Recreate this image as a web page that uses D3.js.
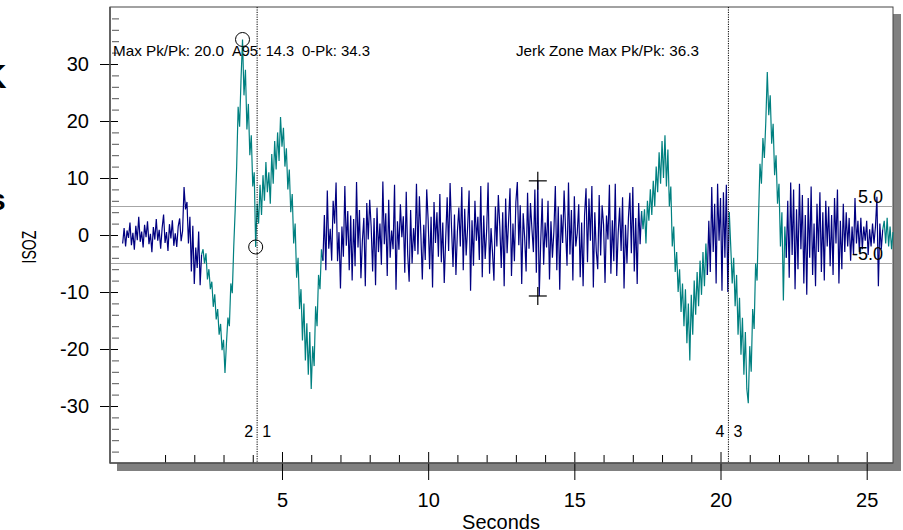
<!DOCTYPE html>
<html>
<head>
<meta charset="utf-8">
<script src="https://cdn.jsdelivr.net/npm/d3@7"></script>
<style>
  body { margin: 0; background: #fff; }
  svg { display: block; font-family: "Liberation Sans", Arial, sans-serif; }
</style>
</head>
<body>
<svg id="chart" width="903" height="530"></svg>
<script>
// ---- Recorded ISO-Z jerk trace, sampled every 0.05 s ----
const SAMPLE_STEP = 0.05;

// Quiet lead-in (navy)
const leadStart = -0.45;
const leadValues = [
  -1.5, 1.2, -2.0, 0.8, -0.5, 2.2, -1.8, 0.4, -2.6, 1.6,
  -0.9, 3.2, -1.2, 0.6, -2.2, 1.8, -0.4, 2.4, -1.6, 0.2,
  -3.0, 1.4, -0.8, 2.8, -1.0, 0.9, -2.4, 1.2, 3.6, -1.4,
  0.5, -2.8, 1.9, -0.6, 2.6, -1.9, 0.3, -2.1, 1.5, 2.9,
  -1.1, 0.7, 8.4, 4.5, 5.8, -1.5, 3.2, -6.4, 1.6, -8.6,
  -2.2, -5.8, 0.6, -8.8, -3.4
];

// First jerk zone (teal)
const jerkOneStart = 2.30;
const jerkOneValues = [
  -2.5, -5.0, -3.2, -7.8, -6.0, -9.5, -8.2, -12.6, -10.4, -14.8,
  -13.0, -17.5, -15.6, -20.2, -18.4, -24.2, -19.0, -14.5, -16.0, -8.5,
  -10.2, -2.0, 4.5, 12.0, 22.5, 19.0, 27.5, 34.3, 24.5, 29.0,
  18.5, 23.0, 14.0, 17.5, 8.5, 11.0, -2.1, 5.5, 2.0, 8.8,
  3.5, 10.5, 6.0, 12.8, 7.5, 11.0, 5.5, 14.2, 9.0, 16.5,
  11.5, 18.0, 13.0, 20.7, 15.5, 18.8, 12.0, 15.2, 8.0, 11.5,
  4.0, 7.2, -1.5, 2.0, -7.5, -4.0, -13.0, -9.5, -18.5, -12.0,
  -22.0, -15.5, -24.5, -17.0, -27.0, -19.5, -23.0, -12.5, -16.0, -7.0,
  -9.5, -2.5, -4.5
];

// Steady running (navy)
const steadyStart = 6.45;
const steadyValues = [
  3.5, -6.2, 7.8, -2.4, 1.1, -4.5, 6.0, 2.0, 9.2, -4.6,
  0.5, -9.4, 1.5, -3.8, 8.6, -1.9, 4.2, -6.2, 3.4, -8.0,
  2.8, -5.5, 9.3, -2.2, 4.4, -7.6, -1.0, 3.0, -9.0, 5.6,
  -0.8, 6.2, 1.5, -6.4, 3.0, -8.8, 4.8, -3.0, 2.0, -5.2,
  9.4, -1.6, 3.8, -7.2, 6.2, -4.0, 0.8, -2.5, 8.8, -9.6,
  2.4, -2.6, 5.4, -0.4, 3.3, -6.6, 7.6, -3.4, -8.2, 4.4,
  -5.0, 1.2, -2.8, 9.0, -3.4, 6.8, 0.2, -7.8, 1.8, -4.4,
  8.0, 2.6, -6.0, 3.2, -9.2, 5.8, -1.4, 4.0, -3.8, 7.2,
  -4.8, 2.2, -8.4, -0.6, 6.6, -2.8, 9.1, 1.2, -5.6, 3.6,
  -7.0, 0.6, 4.8, -2.0, 8.4, -6.2, 4.6, -3.6, 1.4, 7.8,
  -9.8, 2.6, -5.4, 6.0, -1.0, 3.2, -4.4, 8.6, -7.4, 3.4,
  -4.2, 0.8, 9.2, -6.8, 1.2, -3.0, -8.0, 5.0, -2.0, 7.0,
  1.6, -5.8, 4.0, -9.0, 6.4, -3.2, 2.4, 8.2, -7.2, 2.0,
  -4.6, 5.8, 9.3, -1.8, 5.2, -8.6, 3.8, -0.4, -6.4, 7.4,
  -2.4, 5.6, 1.0, -3.0, 8.0, -6.6, 9.5, -10.7, -1.2, 6.4,
  -5.2, 2.2, -2.2, 6.0, -7.8, 2.4, -4.0, 0.6, 8.6, -6.2,
  5.0, -9.6, 3.6, -1.4, 7.8, 1.0, -5.4, 9.2, -3.4, 4.4,
  -8.0, 6.8, -2.0, 0.4, 5.4, -7.4, 2.2, -9.0, 3.5, 8.2,
  -4.8, 6.4, -1.0, 8.6, -9.2, 4.0, -2.8, -6.0, 7.0, -3.6,
  5.2, 1.8, -8.4, 3.4, -0.8, 8.8, -6.8, 2.6, -4.6, 9.0,
  -7.2, 0.4, 4.8, -2.8, 6.6, -9.4, 1.8, -5.0, 3.0, 7.4,
  -3.2, 8.4, -6.4, 3.0, -8.6, 5.6, -1.6, 4.2
];

// Build-up before the second stop (teal)
const riseStart = 17.35;
const riseValues = [
  1.0, 4.5, -1.5, 6.0, 2.5, 8.0, 3.5, 9.5, 5.0, 12.0,
  7.5, 14.5, 9.0, 16.5, 10.0, 17.5, 8.5, 15.0, 5.0, 8.5,
  -2.0, 1.5, -6.5, -3.0, -10.0, -6.0, -13.5, -8.5, -16.0, -9.5,
  -19.0, -12.0, -22.0, -10.5, -17.5, -8.0, -14.0, -6.5, -12.5, -4.5,
  -10.5, -3.0, -9.0, -1.5, -7.0
];

// Short settled stretch (navy)
const gapStart = 19.60;
const gapValues = [
  2.5, -6.5, 8.4, -3.0, 5.5, -8.5, 9.0, -1.0, 6.5, -9.8,
  7.5, -4.0, 8.8, -10.0, 4.0
];

// Second jerk zone (teal)
const jerkTwoStart = 20.35;
const jerkTwoValues = [
  -2.0, -8.5, -4.0, -12.5, -7.0, -17.5, -11.0, -21.0, -14.5, -24.5,
  -17.0, -27.0, -29.5, -19.5, -24.0, -13.0, -16.5, -5.0, -8.0, 3.0,
  12.5, 9.0, 17.0, 13.5, 20.0, 28.6, 21.0, 24.5, 16.0, 19.5,
  10.5, 14.0, 5.5, 9.0, -2.0, 4.0, -11.5, 1.5, -4.0
];

// Decaying vibration after the stop (navy)
const decayStart = 22.30;
const decayValues = [
  6.0, -7.5, 9.2, -3.5, 8.0, -9.5, 4.5, -6.0, 9.0, -2.5,
  7.0, -8.5, 3.5, -10.5, 6.5, -4.0, 8.5, -7.0, 2.0, -9.0,
  5.5, -3.0, 7.5, -6.5, 4.0, -8.0, 6.0, -2.0, 5.0, -5.5,
  3.5, -7.0, 6.5, -1.5, 8.0, -8.5, 2.5, -6.0, 5.5, -3.0,
  4.0, -2.0, 3.0, -4.5, 1.5, -3.5, 6.5, -1.5, 2.5, -3.0,
  3.0, -2.5, 1.5, -1.0, 2.5, -3.5, 1.0, -2.0, 2.0, -1.5,
  1.5, 6.7, -9.0, 2.0, -2.5, 1.0
];

// Trailing samples (teal)
const tailStart = 25.60;
const tailValues = [2.5, -1.5, 3.0, -2.0, 1.5, -2.5, 0.5];

// Axis ticks
const xMajorTicks = [5, 10, 15, 20, 25];
const xMinorTicks = [1, 2, 3, 4, 6, 7, 8, 9, 11, 12, 13, 14, 16, 17, 18, 19, 21, 22, 23, 24];
const yMajorTicks = [-30, -20, -10, 0, 10, 20, 30];
const yMinorTicks = [-38, -36, -34, -32, -28, -26, -24, -22, -18, -16, -14, -12, -8, -6, -4, -2,
                     2, 4, 6, 8, 12, 14, 16, 18, 22, 24, 26, 28, 32, 34, 36, 38];

// Alarm limits and zone cursors
const limitLevels = [5.0, -5.0];
const cursorTimes = [4.15, 20.27];
const cursorLabels = [["2", "1"], ["4", "3"]];

// Summary readouts
const zoneStats = ["Max Pk/Pk: 20.0", "A95: 14.3", "0-Pk: 34.3"];
const jerkZoneStat = "Jerk Zone Max Pk/Pk: 36.3";

// ---- Drawing ----
const NAVY = "#000080";
const TEAL = "#008080";
const svg = d3.select("#chart");
const frame = { left: 110, top: 7, right: 893, bottom: 463 };

const x = d3.scaleLinear().domain([-0.883, 25.9]).range([frame.left, frame.right]);
const y = d3.scaleLinear().domain([-40, 40]).range([frame.bottom, frame.top]);

// drop shadow and plot face
svg.append("rect")
  .attr("x", frame.left + 7).attr("y", frame.top + 7)
  .attr("width", frame.right - frame.left + 1).attr("height", frame.bottom - frame.top + 1)
  .attr("fill", "#808080");
svg.append("rect")
  .attr("x", frame.left).attr("y", frame.top)
  .attr("width", frame.right - frame.left).attr("height", frame.bottom - frame.top)
  .attr("fill", "#fff").attr("stroke", "#444").attr("stroke-width", 1);

// limit lines
svg.append("g").selectAll("line").data(limitLevels).join("line")
  .attr("x1", frame.left).attr("x2", frame.right)
  .attr("y1", d => y(d)).attr("y2", d => y(d))
  .attr("stroke", "#a6a6a6").attr("stroke-width", 1.2);

// signal, split into coloured segments that join end to end
const segments = [
  { start: leadStart, values: leadValues, color: NAVY },
  { start: jerkOneStart, values: jerkOneValues, color: TEAL },
  { start: steadyStart, values: steadyValues, color: NAVY },
  { start: riseStart, values: riseValues, color: TEAL },
  { start: gapStart, values: gapValues, color: NAVY },
  { start: jerkTwoStart, values: jerkTwoValues, color: TEAL },
  { start: decayStart, values: decayValues, color: NAVY },
  { start: tailStart, values: tailValues, color: TEAL }
].map(s => ({
  color: s.color,
  points: s.values.map((v, i) => ({ t: s.start + i * SAMPLE_STEP, v }))
}));
segments.forEach((s, i) => {
  if (i > 0) {
    const prev = segments[i - 1].points;
    s.drawn = [prev[prev.length - 1], ...s.points];
  } else s.drawn = s.points;
});

const line = d3.line().x(d => x(d.t)).y(d => y(d.v));
svg.append("g").selectAll("path").data(segments).join("path")
  .attr("d", d => line(d.drawn))
  .attr("fill", "none")
  .attr("stroke", d => d.color)
  .attr("stroke-width", 1.2)
  .attr("stroke-linejoin", "miter");

// zone cursors
const cursors = svg.append("g");
cursorTimes.forEach((t, i) => {
  cursors.append("line")
    .attr("x1", x(t)).attr("x2", x(t))
    .attr("y1", frame.top).attr("y2", frame.bottom)
    .attr("stroke", "#000").attr("stroke-width", 1)
    .attr("stroke-dasharray", "1.2,1.2");
  cursors.append("text").attr("x", x(t) - 4).attr("y", 437)
    .attr("text-anchor", "end").attr("font-size", 16).text(cursorLabels[i][0]);
  cursors.append("text").attr("x", x(t) + 5).attr("y", 437)
    .attr("text-anchor", "start").attr("font-size", 16).text(cursorLabels[i][1]);
});

// markers in the first jerk zone: overall peak, and the dip just before cursor 2|1
const zoneOne = segments[1].points;
const peakPoint = zoneOne.reduce((a, b) => (b.v > a.v ? b : a));
const dipPoint = zoneOne
  .filter(p => p.t > peakPoint.t && p.t <= cursorTimes[0])
  .reduce((a, b) => (b.v < a.v ? b : a));
svg.append("g").selectAll("circle").data([peakPoint, dipPoint]).join("circle")
  .attr("cx", d => x(d.t)).attr("cy", d => y(d.v)).attr("r", 7)
  .attr("fill", "none").attr("stroke", "#000").attr("stroke-width", 1);

// max / min crosshairs of the steady section
const steady = segments[2].points;
const steadyMax = steady.reduce((a, b) => (b.v > a.v ? b : a));
const steadyMin = steady.reduce((a, b) => (b.v < a.v ? b : a));
const crosses = svg.append("g").attr("stroke", "#000").attr("stroke-width", 1.2);
[steadyMax, steadyMin].forEach(p => {
  const cx = x(steadyMax.t), cy = y(p.v);
  crosses.append("line").attr("x1", cx - 9).attr("x2", cx + 9).attr("y1", cy).attr("y2", cy);
  crosses.append("line").attr("x1", cx).attr("x2", cx).attr("y1", cy - 9).attr("y2", cy + 9);
});

// y axis: minor ticks inside, major ticks across the frame
const yMinor = svg.append("g").attr("transform", `translate(${frame.left},0)`)
  .call(d3.axisLeft(y).tickValues(yMinorTicks).tickSize(-7).tickFormat(""));
yMinor.select(".domain").remove();
yMinor.selectAll("line").attr("stroke", "#555").attr("transform", "translate(2,0)");

const yMajor = svg.append("g").attr("transform", `translate(${frame.left},0)`)
  .call(d3.axisLeft(y).tickValues(yMajorTicks).tickSize(10).tickPadding(11)
    .tickFormat(d => String(d)));
yMajor.select(".domain").remove();
yMajor.selectAll("line").attr("x1", 8).attr("stroke", "#000");
yMajor.selectAll("text").attr("font-size", 20).attr("fill", "#000")
  .attr("font-family", "'Liberation Sans', Arial, sans-serif");

// x axis
const xMinor = svg.append("g").attr("transform", `translate(0,${frame.bottom})`)
  .call(d3.axisBottom(x).tickValues(xMinorTicks).tickSize(-8).tickFormat(""));
xMinor.select(".domain").remove();
xMinor.selectAll("line").attr("stroke", "#000");

const xMajor = svg.append("g").attr("transform", `translate(0,${frame.bottom})`)
  .call(d3.axisBottom(x).tickValues(xMajorTicks).tickSize(17).tickFormat(d => String(d)));
xMajor.select(".domain").remove();
xMajor.selectAll("line").attr("y1", -11).attr("stroke", "#000");
xMajor.selectAll("text").attr("y", 44).attr("dy", 0).attr("font-size", 20).attr("fill", "#000")
  .attr("font-family", "'Liberation Sans', Arial, sans-serif");

// frame edges drawn on top of the ticks
svg.append("line").attr("x1", frame.left).attr("x2", frame.left)
  .attr("y1", frame.top).attr("y2", frame.bottom + 0.5)
  .attr("stroke", "#555").attr("stroke-width", 1.6);
svg.append("line").attr("x1", frame.left).attr("x2", frame.right)
  .attr("y1", frame.bottom).attr("y2", frame.bottom)
  .attr("stroke", "#555").attr("stroke-width", 1.6);

// limit labels
svg.append("g").selectAll("text").data(limitLevels).join("text")
  .attr("x", 883).attr("y", d => y(d) - 4)
  .attr("text-anchor", "end").attr("font-size", 18)
  .text(d => d.toFixed(1));

// readouts
const statX = [113, 232, 302];
const statW = [111, 62, 68];
svg.append("g").selectAll("text").data(zoneStats).join("text")
  .attr("x", (d, i) => statX[i]).attr("y", 56)
  .attr("font-size", 15)
  .attr("textLength", (d, i) => statW[i]).attr("lengthAdjust", "spacingAndGlyphs")
  .text(d => d);
svg.append("text").attr("x", 516).attr("y", 56).attr("font-size", 15)
  .attr("textLength", 183).attr("lengthAdjust", "spacingAndGlyphs")
  .text(jerkZoneStat);

// axis titles
svg.append("text").attr("x", 501).attr("y", 529).attr("text-anchor", "middle")
  .attr("font-size", 20).text("Seconds");
svg.append("text").attr("transform", "translate(36,247) rotate(-90)")
  .attr("text-anchor", "middle").attr("font-size", 21)
  .attr("textLength", 33).attr("lengthAdjust", "spacingAndGlyphs").text("ISOZ");

// report heading, mostly clipped at the page edge
svg.append("text").attr("x", -18).attr("y", 88).attr("font-size", 34)
  .attr("font-weight", "bold").text("K");
svg.append("text").attr("x", -11).attr("y", 210).attr("font-size", 30)
  .attr("font-weight", "bold").text("s");
</script>
</body>
</html>
